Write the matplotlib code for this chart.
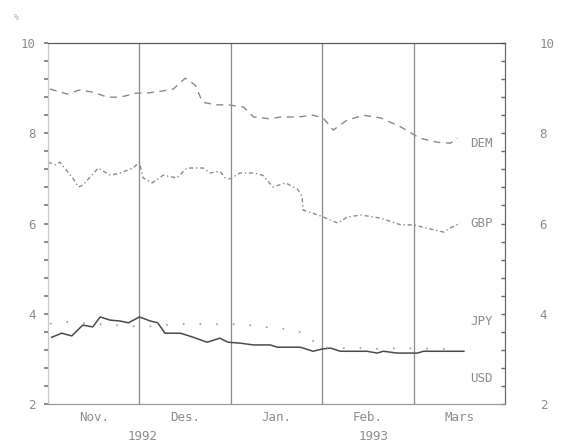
import matplotlib.pyplot as plt
import numpy as np

# x positions are months since 1 Nov 1992 (0 = start of Nov., 5 = end of Mars)
dem_x = [0.02, 0.21, 0.35, 0.49, 0.65, 0.79, 0.97, 1.08, 1.23, 1.37, 1.50, 1.61, 1.69, 1.83,
         1.97, 2.14, 2.25, 2.43, 2.54, 2.73, 2.90, 3.01, 3.12, 3.27, 3.45, 3.64, 3.86, 4.07,
         4.26, 4.40, 4.48]
dem_y = [8.98, 8.87, 8.96, 8.91, 8.80, 8.80, 8.89, 8.89, 8.93, 8.98, 9.22, 9.07, 8.69, 8.63,
         8.63, 8.58, 8.36, 8.32, 8.36, 8.36, 8.40, 8.34, 8.07, 8.29, 8.40, 8.34, 8.14, 7.89,
         7.80, 7.78, 7.89]

gbp_x = [0.00, 0.08, 0.13, 0.27, 0.33, 0.38, 0.55, 0.68, 0.79, 0.93, 1.00, 1.04, 1.14, 1.26,
         1.41, 1.52, 1.70, 1.77, 1.88, 1.94, 1.99, 2.10, 2.25, 2.35, 2.46, 2.60, 2.73, 2.78,
         2.79, 2.98, 3.17, 3.27, 3.42, 3.64, 3.86, 4.00, 4.22, 4.33, 4.40, 4.51]
gbp_y = [7.36, 7.30, 7.36, 7.01, 6.81, 6.85, 7.23, 7.07, 7.12, 7.23, 7.36, 7.01, 6.90, 7.07,
         7.01, 7.23, 7.23, 7.12, 7.16, 7.01, 6.99, 7.12, 7.12, 7.07, 6.81, 6.90, 6.76, 6.60,
         6.30, 6.17, 6.01, 6.14, 6.19, 6.12, 5.97, 5.97, 5.86, 5.81, 5.90, 6.01]

usd_x = [0.04, 0.15, 0.26, 0.38, 0.49, 0.57, 0.68, 0.79, 0.88, 1.00, 1.12, 1.20, 1.28, 1.45,
         1.59, 1.74, 1.88, 1.97, 2.10, 2.25, 2.43, 2.51, 2.76, 2.90, 3.00, 3.09, 3.20, 3.49,
         3.60, 3.67, 3.82, 4.04, 4.11, 4.55]
usd_y = [3.48, 3.57, 3.51, 3.75, 3.71, 3.93, 3.86, 3.84, 3.80, 3.93, 3.84, 3.80, 3.57, 3.57,
         3.48, 3.37, 3.46, 3.37, 3.35, 3.31, 3.31, 3.26, 3.26, 3.17, 3.22, 3.24, 3.17, 3.17,
         3.13, 3.17, 3.13, 3.13, 3.17, 3.17]

jpy_x = [0.02, 0.21, 1.04, 1.41, 1.59, 1.77, 1.97, 2.14, 2.32, 2.51, 2.67, 2.81, 2.98, 3.29,
         3.47, 3.67, 3.83, 4.38]
jpy_y = [3.78, 3.82, 3.71, 3.77, 3.77, 3.77, 3.77, 3.77, 3.71, 3.69, 3.64, 3.57, 3.25, 3.24,
         3.24, 3.22, 3.24, 3.22]

months = ["Nov.", "Des.", "Jan.", "Feb.", "Mars"]
series_labels = [("DEM", 7.78), ("GBP", 6.0), ("JPY", 3.82), ("USD", 2.57)]

txt = "#8c8c8c"
mono = "DejaVu Sans Mono"

fig = plt.figure(figsize=(5.61, 4.46), dpi=100)
ax = fig.add_axes([0.0856, 0.094, 0.8146, 0.8096])

ax.plot(dem_x, dem_y, color="#8a8a8a", lw=1.0, ls=(0, (5, 4)))
ax.plot(gbp_x, gbp_y, color="#8a8a8a", lw=1.0, ls=(0, (3, 2, 1, 2)))
ax.plot(usd_x, usd_y, color="#4a4a4a", lw=1.1)
ax.plot(jpy_x, jpy_y, color="#9a9a9a", lw=1.2, ls=(0, (1, 9)))

for name, yv in series_labels:
    ax.text(4.62, yv, name, family=mono, fontsize=9, color=txt, va="center", ha="left")

ax.set_xlim(0, 5)
ax.set_ylim(2, 10)

# month boundaries carry the vertical rules, month names sit between them
ax.set_xticks([1, 2, 3, 4], minor=True)
ax.set_xticks(np.arange(5) + 0.5)
ax.set_xticklabels(months, family=mono, fontsize=9, color=txt)
ax.tick_params(axis="x", which="both", length=0, pad=5)
ax.grid(True, axis="x", which="minor", color="#8a8a8a", lw=0.9)

ax.set_yticks([2, 4, 6, 8, 10])
ax.set_yticks(np.arange(2, 10.01, 0.4), minor=True)
ax.set_yticklabels(["2", "4", "6", "8", "10"], family=mono, fontsize=9, color=txt)
ax.tick_params(axis="y", which="both", direction="out", length=3, width=1.2, color="#777777", pad=6)

ax2 = ax.twinx()
ax2.set_ylim(2, 10)
ax2.set_yticks([2, 4, 6, 8, 10])
ax2.set_yticks(np.arange(2, 10.01, 0.4), minor=True)
ax2.set_yticklabels(["2", "4", "6", "8", "10"], family=mono, fontsize=9, color=txt)
ax2.tick_params(axis="y", which="both", direction="in", length=3, width=1.0, color="#666666", pad=25)

for a in (ax, ax2):
    a.spines["top"].set_color("#555555")
    a.spines["bottom"].set_color("#9a9a9a")
    a.spines["left"].set_color("#c8c8c8")
    a.spines["right"].set_color("#666666")

fig.text(143 / 561, 1 - 437 / 446, "1992", family=mono, fontsize=9, color=txt, ha="center", va="center")
fig.text(374 / 561, 1 - 437 / 446, "1993", family=mono, fontsize=9, color=txt, ha="center", va="center")
fig.text(16 / 561, 1 - 18 / 446, "%", family=mono, fontsize=6, color="#b0b0b0", ha="center", va="center")

fig.savefig("out.png", dpi=100)
